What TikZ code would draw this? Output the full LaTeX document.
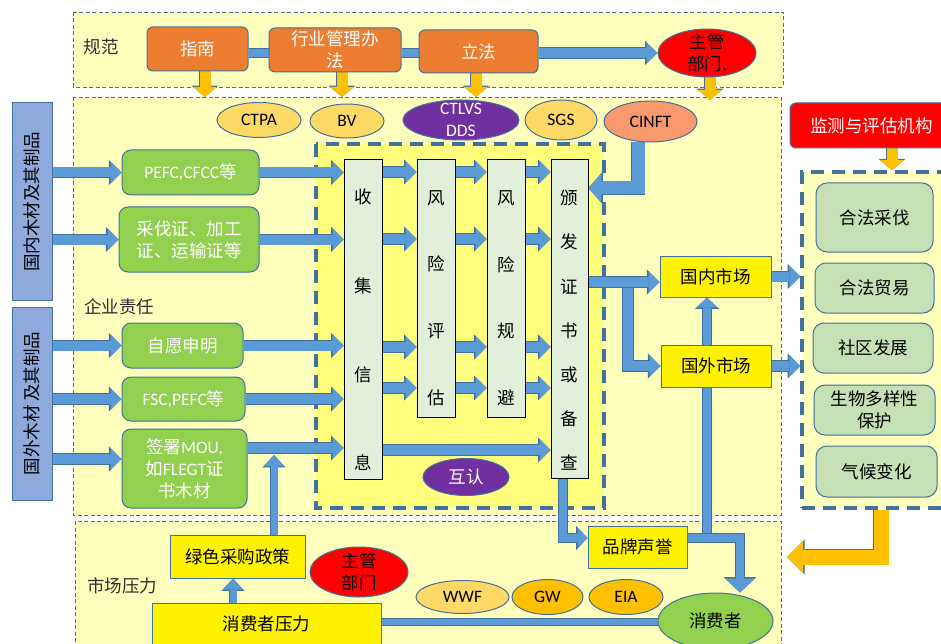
\documentclass[tikz,border=0pt]{standalone}
\usepackage{fontspec}
\setmainfont{Noto Sans CJK SC}
\newfontfamily\lat{Carlito}
\usetikzlibrary{arrows.meta,shapes.geometric}
\pgfdeclarelayer{bg}
\pgfdeclarelayer{conn}
\pgfsetlayers{bg,conn,main}
\definecolor{bandY}{RGB}{255,255,189}
\definecolor{innerY}{RGB}{255,255,125}
\definecolor{dashB}{RGB}{65,113,156}
\definecolor{orgBox}{RGB}{237,125,49}
\definecolor{blueC}{RGB}{91,155,213}
\definecolor{blueBd}{RGB}{65,113,156}
\definecolor{goldA}{RGB}{255,192,0}
\definecolor{lgold}{RGB}{255,217,102}
\definecolor{grnA}{RGB}{146,208,80}
\definecolor{lgrn}{RGB}{197,224,180}
\definecolor{colF}{RGB}{226,239,218}
\definecolor{leftB}{RGB}{142,169,219}
\definecolor{purp}{RGB}{112,48,160}
\definecolor{salmonA}{RGB}{248,153,110}
\definecolor{txtG}{RGB}{45,45,45}
\newcommand\fz{\fontsize{17.5pt}{22pt}\selectfont}
\tikzset{
  blkarrow/.style n args={7}{draw=#1, line width=#2, -{Triangle[length=#3,width=#4,line width=0pt]},
     preaction={draw=blueBd, line width=#5, -{Triangle[length=#6,width=#7,line width=0pt]}}},
  plainbar/.style 2 args={draw=blueC, line width=#1, preaction={draw=blueBd, line width=#2}},
  barB/.style={blkarrow={blueC}{10pt}{11pt}{22pt}{11.6pt}{12.6pt}{25pt}},
  barT/.style={blkarrow={blueC}{8pt}{10pt}{21pt}{9.6pt}{11.4pt}{24pt}},
  barT2/.style={blkarrow={blueC}{8pt}{14pt}{30pt}{9.6pt}{15.5pt}{33pt}},
  barC/.style={blkarrow={blueC}{13pt}{13pt}{30pt}{14.6pt}{14.5pt}{33pt}},
  barS/.style={blkarrow={blueC}{7pt}{11pt}{20pt}{8.6pt}{12.4pt}{23pt}},
  barTop/.style={blkarrow={blueC}{10pt}{11pt}{21pt}{11.6pt}{12.5pt}{24pt}},
  oarr/.style={blkarrow={goldA}{11pt}{10pt}{24pt}{12.6pt}{11.4pt}{27pt}},
  obig/.style={blkarrow={goldA}{15pt}{16pt}{32pt}{16.6pt}{17.5pt}{35pt}},
  obox/.style={draw=blueBd, line width=1pt, fill=orgBox, rounded corners=6pt, text=white},
  gbox/.style={draw=blueBd, line width=1pt, fill=grnA, rounded corners=9pt, text=white},
  lbox/.style={draw=blueBd, line width=1pt, fill=leftB},
  colbox/.style={draw=black, line width=0.8pt, fill=colF},
  ybox/.style={draw=blueBd, line width=1pt, fill=yellow},
  rbox/.style={draw=blueBd, line width=1pt, fill=lgrn, rounded corners=11pt},
  ell/.style={ellipse, draw=blueBd, line width=1pt},
  band/.style={draw=dashB, line width=0.9pt, dash pattern=on 4pt off 2.5pt, fill=bandY},
  thickdash/.style={draw=dashB, line width=3.5pt, dash pattern=on 13pt off 8pt},
  coltxt/.style={font=\fontsize{17.5pt}{#1pt}\selectfont},
  lab/.style={text=txtG}
}
\begin{document}
\begin{tikzpicture}[x=1pt,y=-1pt, every node/.style={font=\fz, inner sep=0pt, align=center}]
\useasboundingbox (0,0) rectangle (941,644);
\clip (0,0) rectangle (941,644);
\begin{pgfonlayer}{bg}
  \fill[white] (0,0) rectangle (941,644);
  \draw[band] (73,12) rectangle (783,87);
  \draw[band] (73,97) rectangle (781,515);
  \draw[band] (75,521) rectangle (781,660);
  \draw[thickdash, fill=innerY] (316,144) rectangle (604,508);
\end{pgfonlayer}

% ---- top band
\node[lab] (gf) at (101,47) {规范};
\node[obox, minimum width=101pt, minimum height=44pt] (zn) at (197.5,49) {指南};
\node[obox, minimum width=132pt, minimum height=44pt] (hy) at (335,50) {行业管理办\\法};
\node[obox, minimum width=119pt, minimum height=43pt] (lf) at (478.5,51.5) {立法};
\node[ell, fill=red, minimum width=98pt, minimum height=48pt, label={center:主管\\部门.}] (zg1) at (707,53) {};

% ---- ellipses row
\node[ell, fill=lgold, minimum width=84pt, minimum height=35pt] (ctpa) at (259,120) {\lat CTPA};
\node[ell, fill=lgold, minimum width=74pt, minimum height=34pt] (bv) at (347,121) {\lat BV};
\node[ell, fill=purp, minimum width=116pt, minimum height=40pt, label={[text=white]center:{\lat CTLVS}\\{\lat DDS}}] (ct) at (461,120) {};
\node[ell, fill=lgold, minimum width=72pt, minimum height=40pt] (sgs) at (561,120) {\lat SGS};
\node[ell, fill=salmonA, minimum width=93pt, minimum height=41pt] (ci) at (650.5,121.5) {\lat CINFT};

% ---- left boxes
\node[lbox, minimum width=40pt, minimum height=197pt, label={[rotate=90]center:国内木材及其制品}] (gn) at (32,201.5) {};
\node[lbox, minimum width=40pt, minimum height=193pt, label={[rotate=90]center:国外木材 及其制品}] (gw) at (32,403.5) {};

% ---- green boxes
\node[gbox, minimum width=137pt, minimum height=45pt] (p1) at (190.5,172.5) {{\lat PEFC,CFCC}等};
\node[gbox, minimum width=140pt, minimum height=65pt] (cf) at (189,239.5) {采伐证、加工\\证、运输证等};
\node[lab] (qy) at (119,307) {企业责任};
\node[gbox, minimum width=121pt, minimum height=45pt] (zy) at (182.5,345.5) {自愿申明};
\node[gbox, minimum width=123pt, minimum height=44pt] (fs) at (183.5,399) {{\lat FSC,PEFC}等};
\node[gbox, minimum width=125pt, minimum height=79pt] (mo) at (184.5,468.5) {签署{\lat MOU,}\\如{\lat FLEGT}证\\书木材};

% ---- columns
\node[colbox, minimum width=38pt, minimum height=320pt] (c1) at (363,319) {};
\node[colbox, minimum width=38pt, minimum height=258pt] (c2) at (436,288) {};
\node[colbox, minimum width=38pt, minimum height=258pt] (c3) at (506,288) {};
\node[colbox, minimum width=37pt, minimum height=319pt] (c4) at (569.5,318.5) {};
\node[coltxt=88.7] (t1) at (363,330) {收\\集\\信\\息};
\node[coltxt=66.7] (t2) at (436,298) {风\\险\\评\\估};
\node[coltxt=66.7] (t3) at (506,298) {风\\险\\规\\避};
\node[coltxt=44.2] (t4) at (569.5,330.5) {颁\\发\\证\\书\\或\\备\\查};
\node[ell, fill=purp, text=white, minimum width=86pt, minimum height=37pt] (hr) at (466,477) {互认};

% ---- markets
\node[ybox, minimum width=111pt, minimum height=41pt] (dn) at (715.5,276.5) {国内市场};
\node[ybox, minimum width=110pt, minimum height=42pt] (dw) at (716,366) {国外市场};

% ---- right side
\node[draw=blueBd, line width=1pt, fill=red, rounded corners=6pt, text=white, minimum width=163pt, minimum height=45pt] (jc) at (871.5,125.5) {监测与评估机构};
\node[thickdash, fill=bandY, minimum width=158pt, minimum height=336pt] (mon) at (881,340) {};
\node[rbox, minimum width=117pt, minimum height=69pt] (r1) at (874.5,217.5) {合法采伐};
\node[rbox, minimum width=119pt, minimum height=50pt] (r2) at (874.5,288) {合法贸易};
\node[rbox, minimum width=120pt, minimum height=50pt] (r3) at (873,348) {社区发展};
\node[rbox, minimum width=121pt, minimum height=50pt] (r4) at (874.5,410) {生物多样性\\保护};
\node[rbox, minimum width=121pt, minimum height=51pt] (r5) at (876.5,471.5) {气候变化};

% ---- bottom band
\node[ybox, minimum width=99pt, minimum height=42pt] (br) at (637.5,547) {品牌声誉};
\node[ybox, minimum width=135pt, minimum height=43pt] (lv) at (237.5,556.5) {绿色采购政策};
\node[ell, fill=red, minimum width=98pt, minimum height=50pt, label={center:主管\\部门}] (zg2) at (359,572) {};
\node[lab] (scy) at (122,586) {市场压力};
\node[ybox, minimum width=229pt, minimum height=42pt] (xp) at (266.5,624) {消费者压力};
\node[ell, fill=lgold, minimum width=93pt, minimum height=33pt] (wwf) at (462.5,597) {\lat WWF};
\node[ell, fill=goldA, minimum width=71pt, minimum height=35pt] (gwn) at (547.5,597) {\lat GW};
\node[ell, fill=goldA, minimum width=74pt, minimum height=35pt] (eia) at (626,597) {\lat EIA};
\node[ell, fill=grnA, minimum width=115pt, minimum height=56pt] (xf) at (715.5,621) {消费者};

% ---- connectors
\begin{pgfonlayer}{conn}
  \coordinate (ty) at (0,53);
  \draw[plainbar={8pt}{9.6pt}] (zn.east |- ty) -- (hy.west |- ty);
  \draw[plainbar={8pt}{9.6pt}] (hy.east |- ty) -- (lf.west |- ty);
  \draw[barTop] (lf.east |- ty) -- (zg1.west |- ty);
  \coordinate (o1) at (205,97);
  \coordinate (o2) at (342,97);
  \coordinate (o3) at (476,97);
  \coordinate (o4) at (710,100);
  \draw[oarr] (zn.south -| o1) -- (o1);
  \draw[oarr] (hy.south -| o2) -- (o2);
  \draw[oarr] (lf.south -| o3) -- (o3);
  \draw[oarr] (zg1.south -| o4) -- (o4);
  % left inputs
  \draw[barB] (gn.east |- p1.west) -- (p1.west);
  \draw[barB] (gn.east |- cf.west) -- (cf.west);
  \draw[barB] (gw.east |- zy.west) -- (zy.west);
  \draw[barB] (gw.east |- fs.west) -- (fs.west);
  \coordinate (m0) at (0,459);
  \draw[barB] (gw.east |- m0) -- (mo.west |- m0);
  % green to collect
  \draw[barB] (p1.east) -- (c1.west |- p1.east);
  \draw[barB] (cf.east) -- (c1.west |- cf.east);
  \draw[barB] (zy.east) -- (c1.west |- zy.east);
  \draw[barB] (fs.east) -- (c1.west |- fs.east);
  \coordinate (m1) at (0,448);
  \draw[barB] (mo.east |- m1) -- (c1.west |- m1);
  % green policy up arrow
  \coordinate (g2) at (274,455);
  \draw[barS] (lv.north -| g2) -- (g2);
  % column arrows
  \foreach \yy in {172,239,347,388}{
    \draw[barB] (c1.east |- 0,\yy) -- (c2.west |- 0,\yy);
    \draw[barB] (c2.east |- 0,\yy) -- (c3.west |- 0,\yy);
    \draw[barB] (c3.east |- 0,\yy) -- (c4.west |- 0,\yy);
  }
  \coordinate (r5c) at (0,450);
  \draw[barB] (c1.east |- r5c) -- (c4.west |- r5c);
  % CINFT
  \coordinate (k1) at (638,188);
  \draw[barC] (ci.south -| k1) -- (k1) -- (c4.east |- k1);
  % markets
  \coordinate (sp) at (628,282);
  \draw[barB] (sp) |- (dw.west);
  \draw[barB] (c4.east |- sp) -- (dn.west |- sp);
  \draw[barB] (dn.east) -- (mon.west |- dn.east);
  \draw[barB] (dw.east) -- (mon.west |- dw.east);
  % monitoring
  \coordinate (j1) at (892,0);
  \draw[oarr] (jc.south -| j1) -- (mon.north -| j1);
  \coordinate (oe) at (787,557);
  \draw[obig] (mon.south) |- (oe);
  % brand
  \coordinate (bj) at (707,538);
  \draw[barT] (bj) -- (bj |- dn.south);
  \coordinate (b1) at (563,538);
  \draw[barT] (c4.south -| b1) -- (b1) -- (br.west |- b1);
  \coordinate (k2) at (740,538);
  \draw[barT2] (br.east |- k2) -- (k2) -- (k2 |- xf.north);
  % consumer pressure
  \coordinate (q) at (0,622);
  \draw[plainbar={6pt}{7.6pt}] (xp.east |- q) -- (xf.west |- q);
  \coordinate (g1) at (233,0);
  \draw[barS] (xp.north -| g1) -- (lv.south -| g1);
\end{pgfonlayer}
\end{tikzpicture}
\end{document}
